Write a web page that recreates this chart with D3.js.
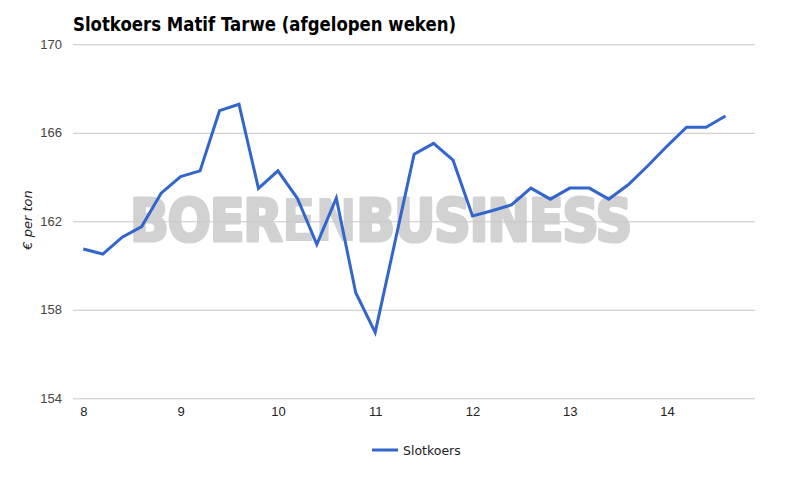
<!DOCTYPE html>
<html>
<head>
<meta charset="utf-8">
<script src="https://cdn.jsdelivr.net/npm/d3@7"></script>
<style>
  html, body { margin: 0; padding: 0; background: #fff; }
  svg { display: block; }
</style>
</head>
<body>
<svg id="chart" width="807" height="487"></svg>
<script>
// ---- data ----
const title = "Slotkoers Matif Tarwe (afgelopen weken)";
const yAxisTitle = "€ per ton";
const seriesName = "Slotkoers";
const weeks = [8.0, 8.2, 8.4, 8.6, 8.8, 9.0, 9.2, 9.4, 9.6, 9.8,
               10.0, 10.2, 10.4, 10.6, 10.8, 11.0, 11.2, 11.4, 11.6, 11.8,
               12.0, 12.2, 12.4, 12.6, 12.8, 13.0, 13.2, 13.4, 13.6, 13.8,
               14.0, 14.2, 14.4, 14.6];
const slotkoers = [160.75, 160.52, 161.28, 161.76, 163.27, 164.02, 164.28, 167.0, 167.29, 163.49,
                   164.28, 163.04, 160.96, 163.05, 158.77, 156.98, 161.0, 165.03, 165.52, 164.76,
                   162.24, 162.48, 162.74, 163.5, 163.0, 163.5, 163.5, 163.0, 163.65, 164.5,
                   165.4, 166.25, 166.25, 166.76];
const xTicks = [8, 9, 10, 11, 12, 13, 14];
const yTicks = [154, 158, 162, 166, 170];
const watermarkParts = [["BOER", 3.2], ["EN", 0], ["BUSINESS", 3.2]];

// ---- layout ----
const svg = d3.select("#chart");
const plotLeft = 73, plotRight = 755;
const x = d3.scaleLinear().domain([8, 14]).range([83.3, 667.1]);
const y = d3.scaleLinear().domain([154, 170]).range([398.3, 44.3]);

// title
svg.append("text")
  .attr("x", 73).attr("y", 31)
  .attr("font-family", "DejaVu Sans, Verdana, sans-serif")
  .attr("font-weight", "bold")
  .attr("font-size", 20)
  .attr("fill", "#000")
  .attr("textLength", 383)
  .attr("lengthAdjust", "spacingAndGlyphs")
  .text(title);

// watermark
const wm = svg.append("g");
const wmText = wm.append("text")
  .attr("x", 0).attr("y", 0)
  .attr("font-family", "DejaVu Sans, Arial, sans-serif")
  .attr("font-weight", "bold")
  .attr("font-size", 58)
  .attr("fill", "#d2d2d2")
  .attr("stroke", "#d2d2d2")
  .attr("stroke-linejoin", "round");
wmText.selectAll("tspan").data(watermarkParts).join("tspan")
  .attr("stroke-width", d => d[1])
  .attr("letter-spacing", -1.5)
  .text(d => d[0]);
const bb = wmText.node().getBBox();
const targetW = 501, targetLeft = 130;
const sx = targetW / bb.width;
wm.attr("transform", `translate(${targetLeft - bb.x * sx}, 241) scale(${sx}, 1)`);

// gridlines + y labels
const yAxis = d3.axisLeft(y).tickValues(yTicks).tickSize(-(plotRight - plotLeft)).tickPadding(11).tickFormat(d3.format("d"));
const gy = svg.append("g").attr("transform", `translate(${plotLeft},0)`).call(yAxis);
gy.select(".domain").remove();
gy.selectAll(".tick line").attr("stroke", "#c8c8c8").attr("stroke-width", 1);
gy.selectAll(".tick text")
  .attr("font-family", "Liberation Sans, Arial, sans-serif")
  .attr("font-size", 13)
  .attr("fill", "#444");

// x axis labels
const xAxis = d3.axisBottom(x).tickValues(xTicks).tickSize(0).tickPadding(0).tickFormat(d3.format("d"));
const gx = svg.append("g").attr("transform", `translate(0,${y(154)})`).call(xAxis);
gx.select(".domain").remove();
gx.selectAll(".tick text")
  .attr("dy", 18)
  .attr("font-family", "Liberation Sans Narrow, Liberation Sans, Arial, sans-serif")
  .attr("font-size", 13)
  .attr("fill", "#222");

// y axis title
svg.append("text")
  .attr("transform", `translate(32,220) rotate(-90)`)
  .attr("text-anchor", "middle")
  .attr("font-family", "DejaVu Sans, Verdana, sans-serif")
  .attr("font-style", "italic")
  .attr("font-size", 13)
  .attr("fill", "#222")
  .text(yAxisTitle);

// line
const line = d3.line().x((d, i) => x(weeks[i])).y(d => y(d));
svg.append("path")
  .datum(slotkoers)
  .attr("d", line)
  .attr("fill", "none")
  .attr("stroke", "#3366cc")
  .attr("stroke-width", 3)
  .attr("stroke-linejoin", "miter");

// legend
const lg = svg.append("g").attr("transform", "translate(372,450)");
lg.append("line").attr("x1", 0).attr("x2", 26).attr("y1", 0).attr("y2", 0)
  .attr("stroke", "#3366cc").attr("stroke-width", 3);
lg.append("text").attr("x", 31).attr("y", 5)
  .attr("font-family", "DejaVu Sans, Verdana, sans-serif")
  .attr("font-size", 12.5)
  .attr("fill", "#222")
  .text(seriesName);
</script>
</body>
</html>
